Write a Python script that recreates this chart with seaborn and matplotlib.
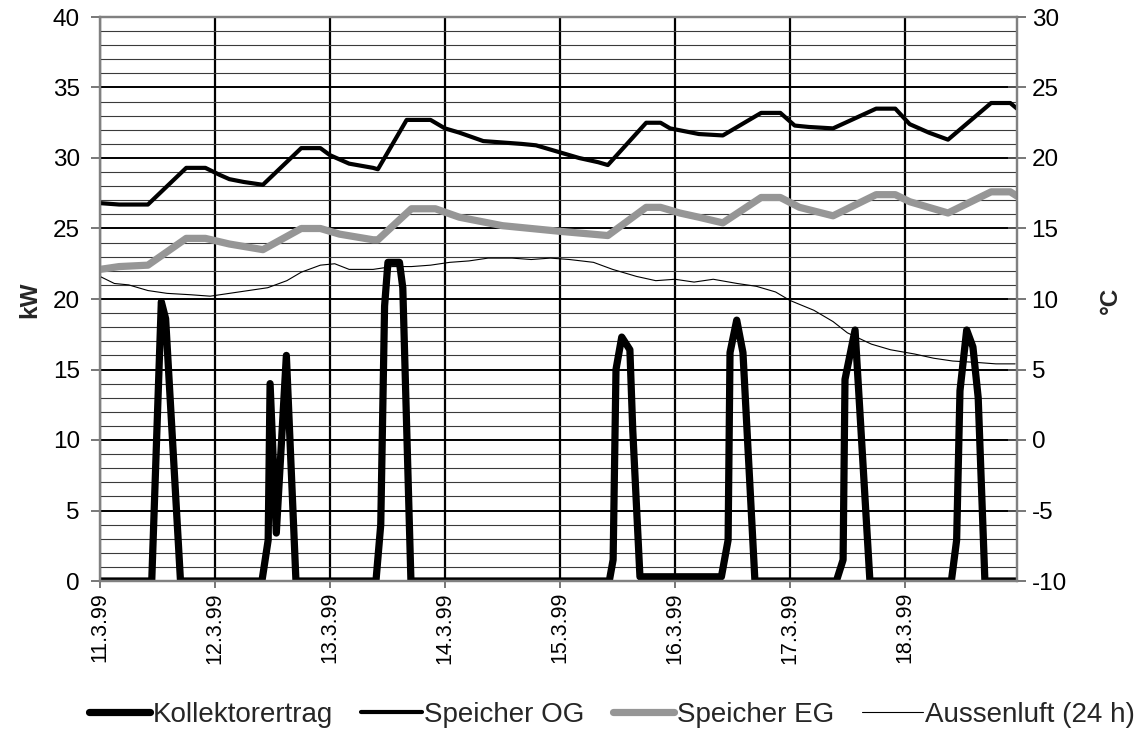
import matplotlib
matplotlib.use("Agg")
import matplotlib.pyplot as plt
import seaborn as sns
from matplotlib.lines import Line2D
from matplotlib.ticker import MultipleLocator, FixedLocator

sns.set_theme(style="white")
plt.rcParams['font.family'] = ['Liberation Sans', 'DejaVu Sans']
plt.rcParams['axes.unicode_minus'] = False

# ---- data (x in hours from 11.3.99 00:00) ----
day_positions = [0, 24, 48, 72, 96, 120, 144, 168]
day_labels = ['11.3.99', '12.3.99', '13.3.99', '14.3.99', '15.3.99', '16.3.99', '17.3.99', '18.3.99']

kollektor_h = [0, 10.8, 12.8, 13.7, 16.8,
               33.8, 35.1, 35.5, 36.8, 38.9, 40.9,
               57.6, 58.6, 59.4, 60.1, 62.5, 63.2, 64.9,
               106.3, 107.1, 107.7, 108.9, 110.6, 111.2, 112.7,
               129.7, 131.1, 131.5, 132.9, 134.2, 136.7,
               153.7, 155.1, 155.5, 157.6, 160.7,
               177.7, 178.8, 179.5, 180.9, 182.2, 183.3, 184.7, 191.4]
kollektor_kw = [0, 0, 19.8, 18.6, 0,
                0, 2.9, 14.0, 3.4, 16.0, 0,
                0, 4.0, 19.5, 22.6, 22.6, 20.8, 0,
                0, 1.5, 15.0, 17.3, 16.4, 10.7, 0.3,
                0.3, 2.9, 16.2, 18.5, 16.2, 0,
                0, 1.5, 14.3, 17.8, 0,
                0, 2.9, 13.5, 17.8, 16.6, 13.0, 0, 0]

og_h = [0, 4, 10, 18, 22, 25, 27, 30, 34, 42, 46, 48, 52, 57, 58, 64, 69, 72, 75, 80,
        84, 88, 91, 96, 100, 104, 106, 114, 117, 119, 125, 130, 138, 142, 145, 148, 153,
        162, 166, 169, 173, 177, 186, 190, 191.4]
og_c = [16.8, 16.7, 16.7, 19.3, 19.3, 18.8, 18.5, 18.3, 18.1, 20.7, 20.7, 20.2, 19.6, 19.3, 19.2,
        22.7, 22.7, 22.1, 21.8, 21.2, 21.1, 21.0, 20.9, 20.4, 20.0, 19.7, 19.5, 22.5, 22.5, 22.1,
        21.7, 21.6, 23.2, 23.2, 22.3, 22.2, 22.1, 23.5, 23.5, 22.4, 21.8, 21.3, 23.9, 23.9, 23.5]

eg_h = [0, 4, 10, 18, 22, 27, 34, 42, 46, 50, 57, 58, 65, 70, 75, 84, 96, 106, 114, 117,
        121, 125, 130, 138, 142, 146, 153, 162, 166, 169, 173, 177, 186, 190, 191.4]
eg_c = [12.1, 12.3, 12.4, 14.3, 14.3, 13.9, 13.5, 15.0, 15.0, 14.6, 14.2, 14.2, 16.4, 16.4,
        15.8, 15.2, 14.8, 14.5, 16.5, 16.5, 16.1, 15.8, 15.4, 17.2, 17.2, 16.5, 15.9, 17.4,
        17.4, 16.9, 16.5, 16.1, 17.6, 17.6, 17.3]

aussen_h = [0, 3, 6, 10, 14, 19, 23, 27, 31, 35, 39, 42, 46, 49, 52, 57, 61, 65, 69, 73,
            77, 81, 86, 90, 94, 98, 103, 107, 112, 116, 120, 124, 128, 133, 137, 141, 144,
            149, 153, 156, 161, 165, 170, 174, 178, 183, 187, 191]
aussen_c = [11.6, 11.1, 11.0, 10.6, 10.4, 10.3, 10.2, 10.4, 10.6, 10.8, 11.3, 11.9, 12.4, 12.5,
            12.1, 12.1, 12.3, 12.3, 12.4, 12.6, 12.7, 12.9, 12.9, 12.8, 12.9, 12.8, 12.6, 12.1,
            11.6, 11.3, 11.4, 11.2, 11.4, 11.1, 10.9, 10.5, 9.9, 9.2, 8.4, 7.6, 6.8, 6.4, 6.1,
            5.8, 5.6, 5.5, 5.4, 5.4]

series_labels = ['Kollektorertrag', 'Speicher OG', 'Speicher EG', 'Aussenluft (24 h)']

W, H = 1138, 733
fig = plt.figure(figsize=(W / 100, H / 100), dpi=100)
ax = fig.add_axes([100 / W, 1 - 581 / H, 917 / W, 564 / H])
ax.set_facecolor('white')
ax2 = ax.twinx()

ax.set_xlim(0, 191.4)
ax.set_ylim(0, 40)
ax2.set_ylim(-10, 30)

# gridlines
ax.yaxis.set_major_locator(MultipleLocator(5))
ax.yaxis.set_minor_locator(MultipleLocator(1))
ax.xaxis.set_major_locator(FixedLocator(day_positions))
ax.set_xticklabels(day_labels, rotation=90, fontsize=15.5)
ax.grid(which='major', axis='y', color='black', lw=1.4, zorder=0)
ax.grid(which='minor', axis='y', color='#3a3a3a', lw=0.8, zorder=0)
ax.grid(which='major', axis='x', color='black', lw=1.6, zorder=0)
ax.set_axisbelow(True)
ax2.yaxis.set_major_locator(MultipleLocator(5))

# series
sns.lineplot(x=kollektor_h, y=kollektor_kw, ax=ax, color='black', lw=5.2, legend=False,
             sort=False, estimator=None)
sns.lineplot(x=og_h, y=og_c, ax=ax2, color='black', lw=3.0, legend=False, sort=False, estimator=None)
sns.lineplot(x=eg_h, y=eg_c, ax=ax2, color='#969696', lw=5.2, legend=False, sort=False, estimator=None)
sns.lineplot(x=aussen_h, y=aussen_c, ax=ax2, color='black', lw=0.8, legend=False, sort=False, estimator=None)

# spines and ticks
for a in (ax, ax2):
    for s in a.spines.values():
        s.set_color('#808080')
        s.set_linewidth(1.6)
ax.tick_params(axis='y', which='major', direction='out', length=6.5, width=1.2, color='#606060',
               labelsize=17.5, pad=8, left=True, labelcolor='black')
ax.tick_params(axis='y', which='minor', length=0)
ax.tick_params(axis='x', which='major', direction='out', length=5, width=1.2, color='#606060',
               pad=3, bottom=True, labelcolor='black')
ax2.tick_params(axis='y', which='major', direction='inout', length=13, width=1.2, color='#606060',
                labelsize=17.5, pad=4, right=True, labelcolor='black')
ax.set_ylabel('')
ax2.set_ylabel('')
ax.set_xlabel('')

fig.text(30 / W, 1 - 300 / H, 'kW', rotation=90, ha='center', va='center', fontsize=17.5, fontweight='bold')
fig.text(1110 / W, 1 - 300 / H, '°C', rotation=90, ha='center', va='center', fontsize=17.5, fontweight='bold')

handles = [Line2D([], [], color='black', lw=5.2),
           Line2D([], [], color='black', lw=3.0),
           Line2D([], [], color='#969696', lw=5.2),
           Line2D([], [], color='black', lw=0.8)]
fig.legend(handles, series_labels, loc='center', bbox_to_anchor=(612 / W, 1 - 715 / H), ncol=4,
           frameon=False, fontsize=20, handlelength=2.2, handletextpad=0.1, columnspacing=1.0,
           borderpad=0, borderaxespad=0)

fig.savefig('out.png', dpi=100)
